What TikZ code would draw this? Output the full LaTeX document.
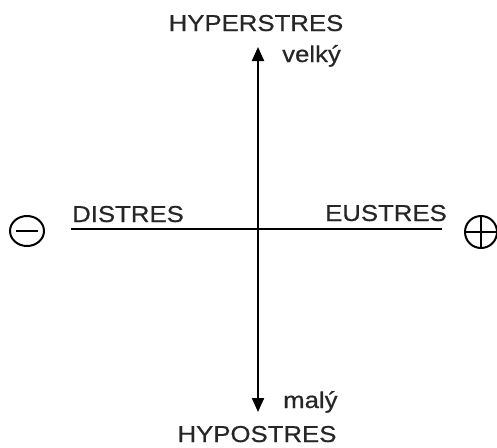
\documentclass[tikz,border=0pt]{standalone}
\usepackage{fontspec}
\newfontfamily\labelfont{Liberation Sans}[FakeStretch=1.12,FakeBold=0.6]
\usetikzlibrary{arrows.meta,positioning,shapes.geometric}

\begin{document}
\begin{tikzpicture}[x=1pt, y=-1pt, >={Triangle[length=14pt,width=12pt]},
  lbl/.style={inner sep=0pt, text=black!85, font=\labelfont\fontsize{23}{27}\selectfont},
  sign/.style={circle, draw, line width=2pt, minimum size=32pt, inner sep=0pt},
  axis/.style={line width=2.2pt}]
\useasboundingbox (0,0) rectangle (497,447);
\coordinate (top) at (258,47);
\coordinate (bottom) at (258,412);
\coordinate (left) at (71,229);
\coordinate (right) at (442,229);
\draw[axis, <->] (top) -- (bottom);
\draw[axis] (left) -- (right);
\node[lbl, anchor=base] (hyper) at (256,31) {HYPERSTRES};
\node[lbl, anchor=base west] (velky) at (282,62) {velký};
\node[lbl, anchor=base west] (distres) at (72,222) {DISTRES};
\node[lbl, anchor=base east] (eustres) at (447,221) {EUSTRES};
\node[lbl, anchor=base west] (maly) at (283,408) {malý};
\node[lbl, anchor=base] (hypo) at (257,442) {HYPOSTRES};
\node[sign, ellipse, minimum width=34pt, minimum height=30pt] (minus) at (27,231) {};
\draw[line width=2pt] ([xshift=7pt]minus.west) -- ([xshift=-7pt]minus.east);
\node[sign] (plus) at (481,232) {};
\draw[line width=2pt] (plus.west) -- (plus.east);
\draw[line width=2pt] (plus.north) -- (plus.south);
\end{tikzpicture}
\end{document}
